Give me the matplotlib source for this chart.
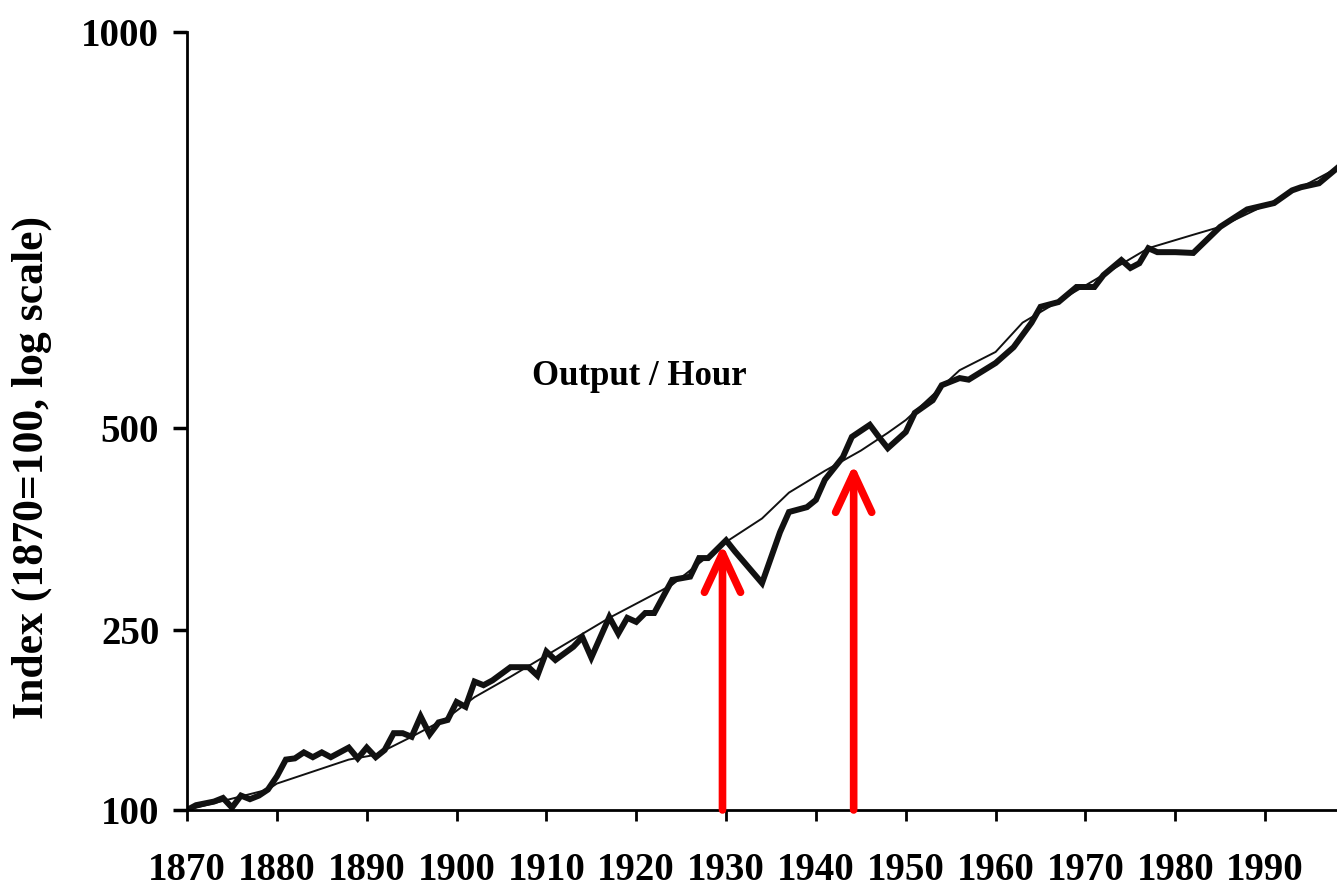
import numpy as np
import matplotlib.pyplot as plt

# output per hour, actual (thick) and trend (thin), index 1870=100
years = [1870, 1871, 1873, 1874, 1875, 1876, 1877, 1878, 1879, 1880,
         1881, 1882, 1883, 1884, 1885, 1886, 1887, 1888, 1889, 1890,
         1891, 1892, 1893, 1894, 1895, 1896, 1897, 1898, 1899, 1900,
         1901, 1902, 1903, 1904, 1906, 1908, 1909, 1910, 1911, 1913,
         1914, 1915, 1917, 1918, 1919, 1920, 1921, 1922, 1924, 1926,
         1927, 1928, 1930, 1931, 1933, 1934, 1936, 1937, 1938, 1939,
         1940, 1941, 1943, 1944, 1946, 1947, 1948, 1950, 1951, 1953,
         1954, 1956, 1957, 1960, 1962, 1964, 1965, 1967, 1969, 1971,
         1972, 1974, 1975, 1976, 1977, 1978, 1980, 1982, 1985, 1988,
         1991, 1993, 1994, 1996, 1998]
output_hour = [100, 104, 107, 110, 102, 112, 109, 112, 117, 128,
               142, 143, 148, 144, 148, 144, 148, 152, 143, 152,
               144, 150, 164, 164, 161, 178, 163, 173, 175, 190,
               186, 207, 204, 208, 219, 219, 212, 232, 225, 236,
               244, 227, 266, 247, 265, 260, 271, 271, 312, 316,
               339, 339, 361, 347, 321, 308, 371, 396, 399, 402,
               411, 436, 464, 489, 504, 489, 475, 495, 519, 535,
               554, 563, 561, 582, 602, 633, 653, 659, 678, 678,
               693, 712, 702, 708, 727, 722, 722, 721, 754, 776,
               784, 800, 804, 809, 828]

trend_years = [1870, 1879, 1880, 1884, 1888, 1891, 1895, 1899, 1902, 1906,
               1917, 1924, 1930, 1934, 1937, 1941, 1945, 1948, 1950, 1956,
               1960, 1963, 1977, 1982, 1985, 1992, 1998]
trend = [100, 117, 122, 132, 142, 146, 161, 177, 194, 211,
         265, 306, 359, 388, 420, 447, 472, 494, 510, 573,
         596, 633, 727, 744, 754, 792, 828]

# red arrows: (year, tip value)
arrow_years = [1929.6, 1944.2]
arrow_tips = [356, 455]

ytick_vals = [100, 250, 500, 1000]
xtick_vals = list(range(1870, 2000, 10))

# the printed axis is not a true log axis; map the labelled ticks piecewise
knot_v = [0, 100, 250, 500, 1000, 2000]
knot_h = [-120, 0, 180, 382, 778, 1570]


def fwd(v):
    return np.interp(v, knot_v, knot_h)


def inv(h):
    return np.interp(h, knot_h, knot_v)


plt.rcParams['font.family'] = ['Liberation Serif', 'DejaVu Serif']
plt.rcParams['font.weight'] = 'bold'

fig = plt.figure(figsize=(13.37, 8.86), dpi=100)
ax = fig.add_axes([0.1399, 0.0858, 0.8601, 0.8781])
ax.set_yscale('function', functions=(fwd, inv))

ax.plot(trend_years, trend, color='#111111', lw=1.4)
ax.plot(years, output_hour, color='#111111', lw=4.3, solid_joinstyle='miter')

for yr, tip in zip(arrow_years, arrow_tips):
    ax.annotate('', xy=(yr, tip), xytext=(yr, 100),
                arrowprops=dict(arrowstyle='->,head_length=2.8,head_width=1.3',
                                color='#ff0000', lw=5.5, mutation_scale=10,
                                shrinkA=0, shrinkB=0, capstyle='round'),
                annotation_clip=False)

ax.text(1908.4, 554, 'Output / Hour', fontsize=25, ha='left', va='baseline')

ax.set_xlim(1870, 1998)
ax.set_ylim(100, 1000)
ax.set_xticks(xtick_vals)
ax.set_yticks(ytick_vals)
ax.yaxis.set_minor_locator(plt.NullLocator())
ax.set_yticklabels([str(v) for v in ytick_vals])
ax.tick_params(axis='x', direction='out', length=8, width=2, labelsize=28, pad=22)
ax.tick_params(axis='y', direction='out', length=10, width=2.5, labelsize=28, pad=10)
ax.set_ylabel('Index (1870=100, log scale)', fontsize=31.5, fontweight='bold')
ax.yaxis.set_label_coords(-0.1174, 0.44)

for s in ['top', 'right']:
    ax.spines[s].set_visible(False)
for s in ['left', 'bottom']:
    ax.spines[s].set_linewidth(2)

fig.savefig('out.png', dpi=100)
